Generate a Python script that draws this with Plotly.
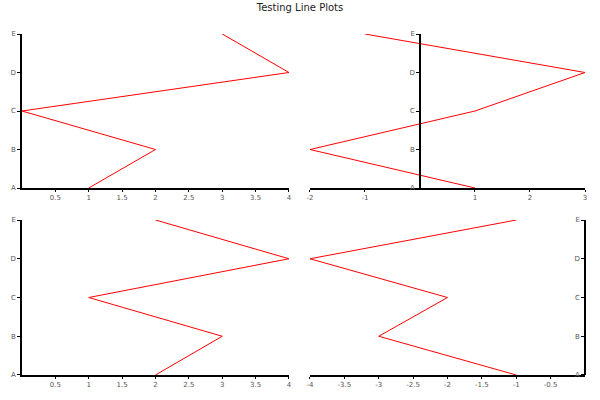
import plotly.graph_objects as go

categories = ["A", "B", "C", "D", "E"]
x_top_left = [1, 2, 0, 4, 3]
x_top_right = [1, -2, 1, 3, -1]
x_bottom_left = [2, 3, 1, 4, 2]
x_bottom_right = [-1, -3, -2, -4, -1]

ticks_pos = [0.5, 1, 1.5, 2, 2.5, 3, 3.5, 4]
ticks_mixed = [-2, -1, 1, 2, 3]
ticks_neg = [-4, -3.5, -3, -2.5, -2, -1.5, -1, -0.5]

left_dom = [0, 0.4742]
right_dom = [0.5115, 1]
top_dom = [0.5484, 1]
bottom_dom = [0, 0.4545]

fig = go.Figure()
line = dict(color="red", width=1)
fig.add_trace(go.Scatter(x=x_top_left, y=categories, mode="lines", line=line, xaxis="x", yaxis="y"))
fig.add_trace(go.Scatter(x=x_top_right, y=categories, mode="lines", line=line, xaxis="x2", yaxis="y2"))
fig.add_trace(go.Scatter(x=x_bottom_left, y=categories, mode="lines", line=line, xaxis="x3", yaxis="y3"))
fig.add_trace(go.Scatter(x=x_bottom_right, y=categories, mode="lines", line=line, xaxis="x4", yaxis="y4"))

tickfont = dict(family="DejaVu Sans", size=7, color="#555")
xcommon = dict(showgrid=False, zeroline=False, showline=True, linecolor="black", linewidth=1.5,
               ticks="outside", ticklen=2, tickcolor="black", tickwidth=1, tickfont=tickfont,
               automargin=False, fixedrange=True)
ycommon = dict(showgrid=False, zeroline=False, showline=True, linecolor="black", linewidth=1.5,
               ticks="outside", ticklen=3, tickcolor="black", tickwidth=1, tickfont=tickfont,
               type="category", categoryorder="array", categoryarray=categories,
               range=[0, 4], automargin=False, fixedrange=True)


def xax(dom, anchor, rng, vals):
    return dict(xcommon, domain=dom, anchor=anchor, range=rng, tickvals=vals,
                ticktext=[f"{v:g}" for v in vals])


def twin(ax, over, inside):
    # second copy of an axis that only draws the other half of each tick
    t = dict(ax, overlaying=over, showline=False, showticklabels=False, ticks=inside)
    return t


def ypos(dom, lo, hi):
    # paper position of data x=0 within a domain
    return dom[0] + (0 - lo) / (hi - lo) * (dom[1] - dom[0])


xa1 = xax(left_dom, "y", [0, 4], ticks_pos)
xa2 = xax(right_dom, "y2", [-2, 3], ticks_mixed)
xa3 = xax(left_dom, "y3", [0, 4], ticks_pos)
xa4 = xax(right_dom, "y4", [-4, 0], ticks_neg)
ya1 = dict(ycommon, domain=top_dom, anchor="x")
ya2 = dict(ycommon, domain=top_dom, anchor="free", position=ypos(right_dom, -2, 3))
ya3 = dict(ycommon, domain=bottom_dom, anchor="x3")
ya4 = dict(ycommon, domain=bottom_dom, anchor="free", position=right_dom[1])

fig.update_layout(
    xaxis=xa1, yaxis=ya1, xaxis2=xa2, yaxis2=ya2,
    xaxis3=xa3, yaxis3=ya3, xaxis4=xa4, yaxis4=ya4,
    xaxis5=twin(xa1, "x", "inside"), xaxis6=twin(xa2, "x2", "inside"),
    xaxis7=twin(xa3, "x3", "inside"), xaxis8=twin(xa4, "x4", "inside"),
    yaxis5=twin(ya1, "y", "inside"), yaxis6=twin(ya2, "y2", "inside"),
    yaxis7=twin(ya3, "y3", "inside"), yaxis8=twin(ya4, "y4", "inside"),
    title=dict(text="Testing Line Plots", x=0.5, xanchor="center", y=0.982, yanchor="middle",
               yref="container", font=dict(family="DejaVu Sans", size=10, color="#222")),
    showlegend=False,
    width=600, height=400,
    margin=dict(l=22, r=15, t=34, b=25),
    paper_bgcolor="white", plot_bgcolor="white",
)

# drop the default page margin so the figure sits at the window's top-left
fig.write_html("out.html", config={"displayModeBar": False},
               post_script="document.body.style.margin='0';")
